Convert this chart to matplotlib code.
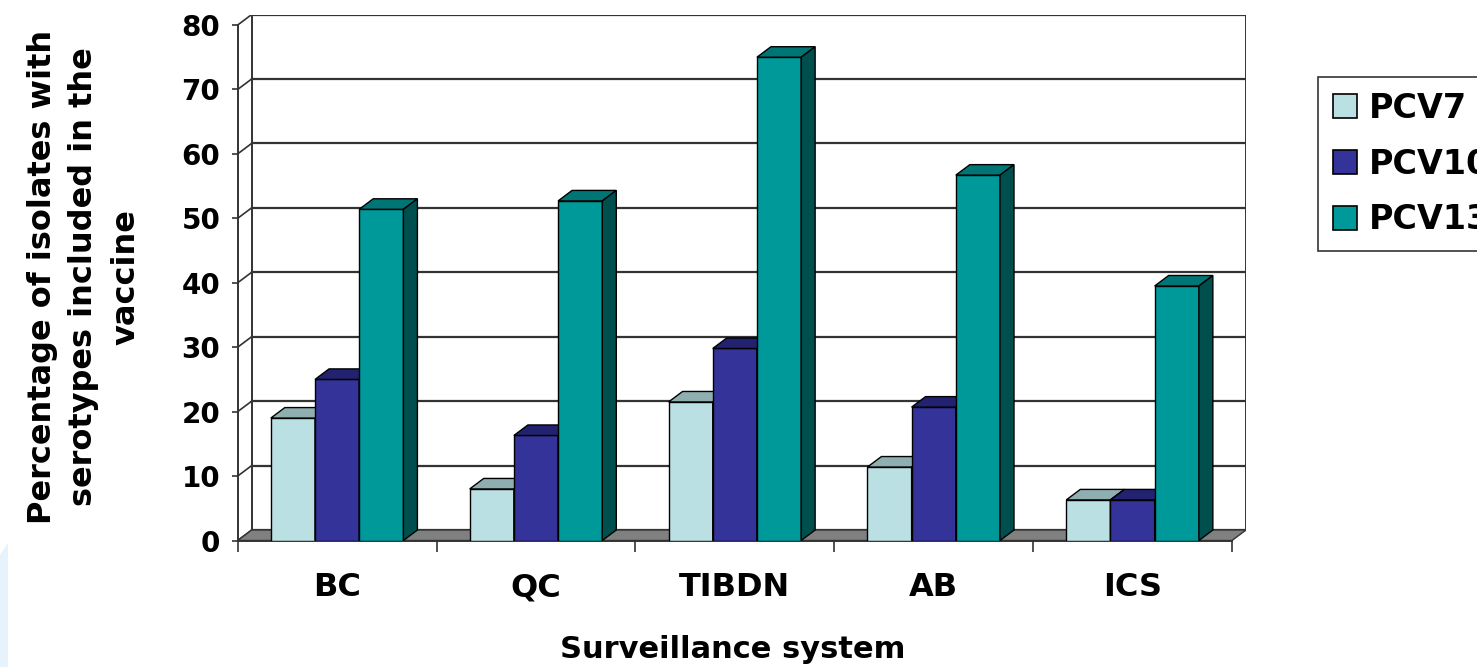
import numpy as np
import matplotlib
matplotlib.use("Agg")
import matplotlib.pyplot as plt
from matplotlib.patches import Polygon, Patch

plt.rcParams['font.family'] = ['DejaVu Sans']
plt.rcParams['font.weight'] = 'bold'

# data
systems = ["BC", "QC", "TIBDN", "AB", "ICS"]
pcv7 = [19.0, 8.0, 21.5, 11.4, 6.3]
pcv10 = [25.0, 16.3, 29.8, 20.7, 6.3]
pcv13 = [51.4, 52.7, 75.0, 56.7, 39.5]
series_names = ["PCV7", "PCV10", "PCV13"]

# front / top / side shades for each series
front_cols = ["#BBE0E3", "#333399", "#009999"]
top_cols = ["#8FAEB0", "#222270", "#007575"]
side_cols = ["#6E9294", "#1A1A55", "#004F4F"]

W, H = 1477, 667
fig = plt.figure(figsize=(W / 100, H / 100), dpi=100)

# pixel layout of the front plane
x0_px, x5_px = 237.7, 1232.0
y0_px, y80_px = 540.5, 25.0
px_x = (x5_px - x0_px) / 5
px_y = (y0_px - y80_px) / 80
dx = 14 / px_x        # depth offset in category units
dy = 10.5 / px_y      # depth offset in value units

ax_w = (x5_px - x0_px) + 14
ax_h = (y0_px - y80_px) + 10.5
ax = fig.add_axes([x0_px / W, (H - y0_px) / H, ax_w / W, ax_h / H])
ax.set_xlim(0, 5 + dx)
ax.set_ylim(0, 80 + dy)
ax.patch.set_visible(False)

ncat = len(systems)
grid_c = "#333333"

# back wall gridlines + side wall diagonals
for k in range(0, 81, 10):
    ax.plot([dx, ncat + dx], [k + dy, k + dy], color=grid_c, lw=1.6, zorder=1)
    ax.plot([0, dx], [k, k + dy], color=grid_c, lw=1.2, zorder=1)
ax.plot([dx, dx], [dy, 80 + dy], color=grid_c, lw=1.4, zorder=1)
ax.plot([ncat + dx, ncat + dx], [dy, 80 + dy], color=grid_c, lw=1.4, zorder=1)

# floor
ax.add_patch(Polygon([(0, 0), (ncat, 0), (ncat + dx, dy), (dx, dy)],
                     closed=True, facecolor="#808080", edgecolor="#333333",
                     lw=1, zorder=2))

# 3d columns
bw = 1 / 4.5
gap = 0.75 * bw
series = [pcv7, pcv10, pcv13]
z = 3
for i in range(ncat):
    for j, vals in enumerate(series):
        v = vals[i]
        left = i + gap + j * bw
        right = left + bw
        ax.bar(left, v, width=bw, align="edge", color=front_cols[j],
               edgecolor="black", linewidth=1, zorder=z)
        ax.add_patch(Polygon([(left, v), (right, v), (right + dx, v + dy),
                              (left + dx, v + dy)], closed=True,
                             facecolor=top_cols[j], edgecolor="black",
                             lw=1, zorder=z))
        ax.add_patch(Polygon([(right, 0), (right, v), (right + dx, v + dy),
                              (right + dx, dy)], closed=True,
                             facecolor=side_cols[j], edgecolor="black",
                             lw=1, zorder=z))
        z += 1

# axes styling
for s in ["top", "right"]:
    ax.spines[s].set_visible(False)
ax.spines["left"].set_bounds(0, 80)
ax.spines["bottom"].set_bounds(0, ncat)
ax.spines["left"].set_color("#333333")
ax.spines["bottom"].set_color("#333333")
ax.spines["left"].set_linewidth(1.4)
ax.spines["bottom"].set_linewidth(1.4)

ax.set_yticks(range(0, 81, 10))
ax.tick_params(axis="y", length=4.5, width=1.2, color="#333333", pad=8,
               labelsize=20)
ax.set_xticks(np.arange(ncat) + 0.5)
ax.set_xticklabels(systems)
ax.set_xticks(np.arange(ncat + 1), minor=True)
ax.tick_params(axis="x", which="major", length=0, pad=23, labelsize=23)
ax.tick_params(axis="x", which="minor", length=8, width=1.2, color="#333333")

fig.text(733 / W, 1 - 650 / H, "Surveillance system", ha="center",
         va="center", fontsize=22, fontweight="bold")
fig.text(84 / W, 1 - 277 / H,
         "Percentage of isolates with\nserotypes included in the\nvaccine",
         rotation=90, ha="center", va="center", fontsize=23,
         fontweight="bold", multialignment="center", linespacing=1.45)

handles = [Patch(facecolor=c, edgecolor="black", linewidth=1.2)
           for c in front_cols]
leg = fig.legend(handles, series_names, loc="upper left",
                 bbox_to_anchor=(1318 / W, 1 - 77 / H),
                 bbox_transform=fig.transFigure, frameon=True, fancybox=False,
                 edgecolor="black", borderaxespad=0, fontsize=24,
                 handlelength=0.72, handleheight=0.72, handletextpad=0.35,
                 labelspacing=0.68, borderpad=0.45)
leg.get_frame().set_linewidth(1.2)

# faint tinted strip at the lower left edge
fig.patches.append(Polygon([(0, 1 - 555 / H), (8 / W, 1 - 543 / H),
                            (8 / W, 0), (0, 0)], closed=True,
                           transform=fig.transFigure, facecolor="#E6F3FC",
                           edgecolor="none", figure=fig))

fig.savefig("out.png", dpi=100)
